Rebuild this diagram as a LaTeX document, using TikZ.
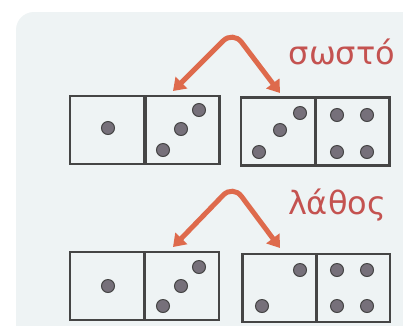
\documentclass[tikz,border=0pt]{standalone}
\usepackage{fontspec}
\newfontfamily\grfont{DejaVu Sans}
\usetikzlibrary{arrows.meta}
\definecolor{bgc}{HTML}{EEF3F4}
\definecolor{redc}{HTML}{DE6A4C}
\definecolor{txtc}{HTML}{C45250}
\definecolor{linec}{HTML}{454545}
\definecolor{dotc}{HTML}{76707A}
\tikzset{
  half/.style={draw=linec, line width=2.8pt, fill=none, minimum width=74pt, minimum height=68pt, inner sep=0pt, outer sep=0pt},
  pip/.style={circle, fill=dotc, draw=linec, line width=1pt, minimum size=13pt, inner sep=0pt},
  redarrow/.style={draw=redc, line width=5pt, rounded corners=14pt, {Triangle[length=12pt,width=16pt]}-{Triangle[length=12pt,width=16pt]}},
  lbl/.style={text=txtc, font=\grfont\fontsize{32}{38}\selectfont, inner sep=0pt}
}
\begin{document}
\begin{tikzpicture}[x=1pt,y=-1pt]
\useasboundingbox (0,0) rectangle (403,325);
\fill[white] (0,0) rectangle (403,325);
\fill[bgc, rounded corners=18pt] (16,12) rectangle (430,360);

% top row
\node[half] (a1) at (107,130) {};
\node[half] (a2) at (182.5,130) {};
\node[half] (b1) at (278,131.5) {};
\node[half] (b2) at (352.5,131.5) {};
\node[pip] (p1) at (108,128) {};
\node[pip] (p2) at (163,150) {};
\node[pip] (p3) at (181,129) {};
\node[pip] (p4) at (199,110) {};
\node[pip] (p5) at (259,152) {};
\node[pip] (p6) at (280,130) {};
\node[pip] (p7) at (300,113) {};
\node[pip] (p8) at (337,115) {};
\node[pip] (p9) at (367,115) {};
\node[pip] (p10) at (337,152) {};
\node[pip] (p11) at (367,152) {};

\coordinate (tl) at (173,91);
\coordinate (tk) at (233,31);
\coordinate (tr) at (280,93);
\draw[redarrow] (tl) -- (tk) -- (tr);
\node[lbl] (t1) at (342,52) {σωστό};

% bottom row
\node[half] (c1) at (107,286) {};
\node[half] (c2) at (182,286) {};
\node[half] (e1) at (279.5,288) {};
\node[half] (e2) at (353,288) {};
\node[pip] (q1) at (108,286) {};
\node[pip] (q2) at (163,306) {};
\node[pip] (q3) at (181,286) {};
\node[pip] (q4) at (199,267) {};
\node[pip] (q5) at (262,306) {};
\node[pip] (q6) at (300,270) {};
\node[pip] (q7) at (337,270) {};
\node[pip] (q8) at (367,270) {};
\node[pip] (q9) at (337,306) {};
\node[pip] (q10) at (367,306) {};

\coordinate (bl) at (173,247);
\coordinate (bk) at (233,185);
\coordinate (br) at (280,248);
\draw[redarrow] (bl) -- (bk) -- (br);
\node[lbl] (t2) at (337,205) {λάθος};
\end{tikzpicture}
\end{document}
